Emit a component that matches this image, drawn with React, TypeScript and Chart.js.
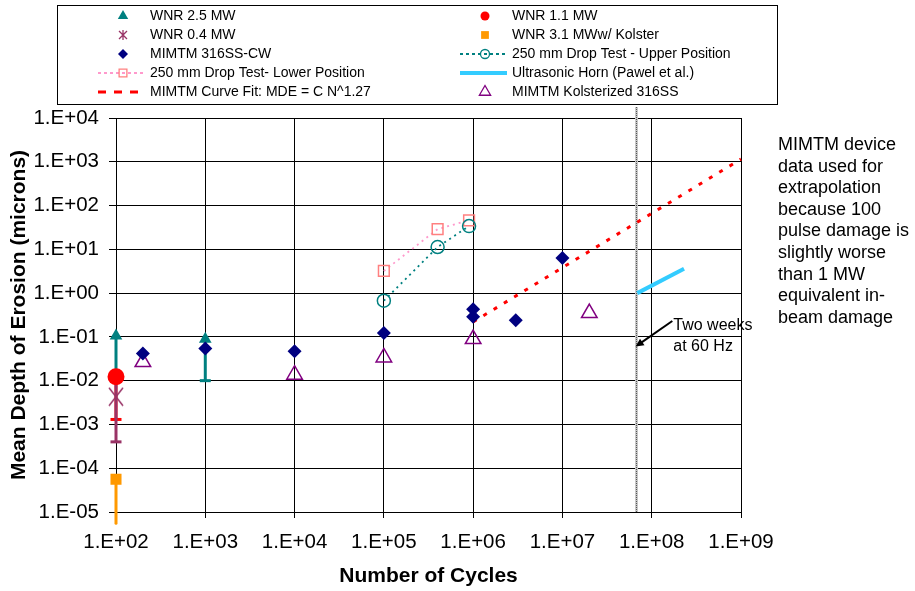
import React, { useEffect, useRef } from 'react';
import { Chart, registerables } from 'chart.js';

Chart.register(...registerables);

const FONT = '"Liberation Sans", Arial, Helvetica, sans-serif';

// ---- axis tick labels ----
const xTickLabels = ['1.E+02', '1.E+03', '1.E+04', '1.E+05', '1.E+06', '1.E+07', '1.E+08', '1.E+09'];
const yTickLabels = ['1.E-05', '1.E-04', '1.E-03', '1.E-02', '1.E-01', '1.E+00', '1.E+01', '1.E+02', '1.E+03', '1.E+04'];

// ---- series: number of cycles / mean depth of erosion (microns) ----
const wnr25Cycles = [100, 1000];
const wnr25Mde = [0.106, 0.089];
const wnr25Low = [0.012, 0.01];

const wnr11Cycles = [100];
const wnr11Mde = [0.0123];
const wnr11Low = [0.0013];

const wnr04Cycles = [100];
const wnr04Mde = [0.0043];
const wnr04Low = [0.0004];
const wnr04High = [0.012];

const wnr31Cycles = [100];
const wnr31Mde = [0.000056];
const wnr31Low = [0.0000055];

const mimtmCycles = [200, 1000, 10000, 100000, 1000000, 1000000, 3000000, 10000000];
const mimtmMde = [0.042, 0.054, 0.047, 0.123, 0.43, 0.29, 0.24, 6.3];

const kolCycles = [200, 10000, 100000, 1000000, 20000000];
const kolMde = [0.0266, 0.0137, 0.034, 0.089, 0.35];

const upperCycles = [100000, 400000, 900000];
const upperMde = [0.67, 11.3, 34];

const lowerCycles = [100000, 400000, 900000];
const lowerMde = [3.2, 29, 46];

const hornCycles = [69000000, 230000000];
const hornMde = [1.0, 3.6];

const fitCycles = [1000000, 1000000000];
const fitMde = [0.22, 1150];

const twoWeeksCycles = 66000000;
const arrowTail = [170000000, 0.23];
const arrowTip = [66000000, 0.06];
const twoWeeksLines = ['Two weeks', 'at 60 Hz'];
const noteLines = [
  'MIMTM device',
  'data used for',
  'extrapolation',
  'because 100',
  'pulse damage is',
  'slightly worse',
  'than 1 MW',
  'equivalent in-',
  'beam damage',
];

const legendOrder = [
  'WNR 2.5 MW',
  'WNR 1.1 MW',
  'WNR 0.4 MW',
  'WNR 3.1 MWw/ Kolster',
  'MIMTM 316SS-CW',
  '250 mm Drop Test - Upper Position',
  '250 mm Drop Test- Lower Position',
  'Ultrasonic Horn (Pawel et al.)',
  'MIMTM Curve Fit: MDE = C N^1.27',
  'MIMTM Kolsterized 316SS',
];

const toValue = (s: string) => Number(s.replace('.E', 'E'));
const pts = (xs: number[], ys: number[]) => xs.map((x, i) => ({ x, y: ys[i] }));

function makeStar(w: number, h: number, lw: number, color: string) {
  const c = document.createElement('canvas');
  c.width = w;
  c.height = h;
  const g = c.getContext('2d')!;
  g.strokeStyle = color;
  g.lineWidth = lw;
  g.beginPath();
  g.moveTo(1, 1);
  g.lineTo(w - 1, h - 1);
  g.moveTo(w - 1, 1);
  g.lineTo(1, h - 1);
  g.moveTo(w / 2, 0);
  g.lineTo(w / 2, h);
  g.stroke();
  return c;
}

function drawMarker(ctx: CanvasRenderingContext2D, style: any, x: number, y: number, r: number, fill: string, stroke: string, lw: number) {
  if (style instanceof HTMLCanvasElement) {
    ctx.drawImage(style, x - style.width / 2, y - style.height / 2);
    return;
  }
  ctx.beginPath();
  if (style === 'circle') ctx.arc(x, y, r, 0, Math.PI * 2);
  else if (style === 'triangle') {
    ctx.moveTo(x, y - r);
    ctx.lineTo(x + r * 0.866, y + r * 0.5);
    ctx.lineTo(x - r * 0.866, y + r * 0.5);
    ctx.closePath();
  } else if (style === 'rect') {
    const s = r * Math.SQRT1_2;
    ctx.rect(x - s, y - s, 2 * s, 2 * s);
  } else if (style === 'rectRot') {
    ctx.moveTo(x - r, y);
    ctx.lineTo(x, y - r);
    ctx.lineTo(x + r, y);
    ctx.lineTo(x, y + r);
    ctx.closePath();
  }
  if (fill && fill !== 'transparent') {
    ctx.fillStyle = fill;
    ctx.fill();
  }
  if (lw > 0) {
    ctx.strokeStyle = stroke;
    ctx.lineWidth = lw;
    ctx.stroke();
  }
}

const errorBars = [
  { cycles: wnr25Cycles, high: wnr25Mde, low: wnr25Low, color: '#008080', cap: true },
  { cycles: wnr11Cycles, high: wnr11Mde, low: wnr11Low, color: '#FF0000', cap: true },
  { cycles: wnr04Cycles, high: wnr04High, low: wnr04Low, color: '#993366', cap: true },
  { cycles: wnr31Cycles, high: wnr31Mde, low: wnr31Low, color: '#FF9900', cap: false },
];

export default function App() {
  const ref = useRef<HTMLCanvasElement>(null);

  useEffect(() => {
    const canvas = ref.current!;
    const star = makeStar(16, 20, 1.5, '#993366');
    const starSmall = makeStar(10, 10, 1.3, '#993366');

    const datasets: any[] = [
      { label: 'WNR 1.1 MW', data: pts(wnr11Cycles, wnr11Mde), pointStyle: 'circle', pointRadius: 8.5, backgroundColor: '#FF0000', borderColor: '#FF0000', borderWidth: 0, order: 0 },
      { label: 'MIMTM 316SS-CW', data: pts(mimtmCycles, mimtmMde), pointStyle: 'rectRot', pointRadius: 7, backgroundColor: '#000080', borderColor: '#000080', borderWidth: 0, order: 1 },
      { label: 'WNR 0.4 MW', data: pts(wnr04Cycles, wnr04Mde), pointStyle: star, pointRadius: 8, backgroundColor: '#993366', borderColor: '#993366', order: 2 },
      { label: 'WNR 2.5 MW', data: pts(wnr25Cycles, wnr25Mde), pointStyle: 'triangle', pointRadius: 7.3, backgroundColor: '#008080', borderColor: '#008080', borderWidth: 0, order: 3 },
      { label: 'WNR 3.1 MWw/ Kolster', data: pts(wnr31Cycles, wnr31Mde), pointStyle: 'rect', pointRadius: 7.8, backgroundColor: '#FF9900', borderColor: '#FF9900', borderWidth: 0, order: 4 },
      { label: 'MIMTM Kolsterized 316SS', data: pts(kolCycles, kolMde), pointStyle: 'triangle', pointRadius: 9, backgroundColor: 'transparent', borderColor: '#800080', borderWidth: 1.5, order: 5 },
      { label: '250 mm Drop Test - Upper Position', data: pts(upperCycles, upperMde), showLine: true, borderColor: '#008080', borderWidth: 1.8, borderDash: [2, 4], pointStyle: 'circle', pointRadius: 6.5, pointBackgroundColor: 'transparent', pointBorderColor: '#008080', pointBorderWidth: 1.5, backgroundColor: 'transparent', order: 6 },
      { label: '250 mm Drop Test- Lower Position', data: pts(lowerCycles, lowerMde), showLine: true, borderColor: '#FF99CC', borderWidth: 1.8, borderDash: [2, 4], pointStyle: 'rect', pointRadius: 7.6, pointBackgroundColor: 'transparent', pointBorderColor: '#FF8080', pointBorderWidth: 1.5, backgroundColor: 'transparent', order: 7 },
      { label: 'Ultrasonic Horn (Pawel et al.)', data: pts(hornCycles, hornMde), showLine: true, borderColor: '#33CCFF', borderWidth: 4, pointRadius: 0, order: 8 },
      { label: 'MIMTM Curve Fit: MDE = C N^1.27', data: pts(fitCycles, fitMde), showLine: true, borderColor: '#FF0000', borderWidth: 3, borderDash: [4, 8], pointRadius: 0, order: 9 },
    ];
    datasets.forEach((d) => (d.clip = false));

    const legendStyle: Record<string, any> = {
      'WNR 2.5 MW': { style: 'triangle', r: 6, fill: '#008080', stroke: '#008080', lw: 0 },
      'WNR 1.1 MW': { style: 'circle', r: 4.5, fill: '#FF0000', stroke: '#FF0000', lw: 0 },
      'WNR 0.4 MW': { style: starSmall, r: 5, fill: '', stroke: '#993366', lw: 0 },
      'WNR 3.1 MWw/ Kolster': { style: 'rect', r: 5.5, fill: '#FF9900', stroke: '#FF9900', lw: 0 },
      'MIMTM 316SS-CW': { style: 'rectRot', r: 5, fill: '#000080', stroke: '#000080', lw: 0 },
      '250 mm Drop Test - Upper Position': { style: 'circle', r: 4.5, fill: 'transparent', stroke: '#008080', lw: 1.3, line: '#008080', dash: [3, 3], lineW: 1.8 },
      '250 mm Drop Test- Lower Position': { style: 'rect', r: 5.5, fill: 'transparent', stroke: '#FF8080', lw: 1.3, line: '#FF99CC', dash: [3, 3], lineW: 1.8 },
      'Ultrasonic Horn (Pawel et al.)': { style: null, line: '#33CCFF', dash: [], lineW: 4 },
      'MIMTM Curve Fit: MDE = C N^1.27': { style: null, line: '#FF0000', dash: [8, 8], lineW: 3 },
      'MIMTM Kolsterized 316SS': { style: 'triangle', r: 6.5, fill: 'transparent', stroke: '#800080', lw: 1.3 },
    };

    const errorBarPlugin = {
      id: 'errorBars',
      beforeDatasetsDraw(chart: any) {
        const { ctx, scales, chartArea } = chart;
        const xs = scales.x;
        const ys = scales.y;
        ctx.save();
        // two-weeks vertical marker line
        const vx = Math.round(xs.getPixelForValue(twoWeeksCycles)) + 0.5;
        ctx.strokeStyle = '#c8c8c8';
        ctx.lineWidth = 3;
        ctx.beginPath();
        ctx.moveTo(vx, chartArea.top - 11);
        ctx.lineTo(vx, chartArea.bottom);
        ctx.stroke();
        ctx.strokeStyle = '#555';
        ctx.lineWidth = 1;
        ctx.setLineDash([1, 1]);
        ctx.beginPath();
        ctx.moveTo(vx, chartArea.top - 11);
        ctx.lineTo(vx, chartArea.bottom);
        ctx.stroke();
        ctx.setLineDash([]);

        for (const eb of errorBars) {
          ctx.strokeStyle = eb.color;
          ctx.lineWidth = 3;
          ctx.lineCap = eb.cap ? 'butt' : 'round';
          eb.cycles.forEach((n, i) => {
            const px = xs.getPixelForValue(n);
            const pHigh = ys.getPixelForValue(eb.high[i]);
            const pLow = ys.getPixelForValue(eb.low[i]);
            ctx.beginPath();
            ctx.moveTo(px, pHigh);
            ctx.lineTo(px, pLow);
            ctx.stroke();
            if (eb.cap) {
              ctx.beginPath();
              ctx.moveTo(px - 5.5, pLow);
              ctx.lineTo(px + 5.5, pLow);
              ctx.stroke();
            }
          });
        }
        ctx.restore();
      },
    };

    const overlayPlugin = {
      id: 'overlay',
      afterDraw(chart: any) {
        const { ctx, scales, chartArea } = chart;
        const xs = scales.x;
        const ys = scales.y;
        ctx.save();

        // arrow "Two weeks at 60 Hz"
        const tx = xs.getPixelForValue(arrowTail[0]);
        const ty = ys.getPixelForValue(arrowTail[1]);
        const hx = xs.getPixelForValue(arrowTip[0]);
        const hy = ys.getPixelForValue(arrowTip[1]);
        const ang = Math.atan2(hy - ty, hx - tx);
        ctx.strokeStyle = '#000';
        ctx.fillStyle = '#000';
        ctx.lineWidth = 2;
        ctx.beginPath();
        ctx.moveTo(tx, ty);
        ctx.lineTo(hx - Math.cos(ang) * 6, hy - Math.sin(ang) * 6);
        ctx.stroke();
        ctx.beginPath();
        ctx.moveTo(hx, hy);
        ctx.lineTo(hx - Math.cos(ang - 0.45) * 9, hy - Math.sin(ang - 0.45) * 9);
        ctx.lineTo(hx - Math.cos(ang + 0.45) * 9, hy - Math.sin(ang + 0.45) * 9);
        ctx.closePath();
        ctx.fill();

        ctx.font = `16px ${FONT}`;
        ctx.textBaseline = 'middle';
        ctx.textAlign = 'left';
        twoWeeksLines.forEach((t, i) => ctx.fillText(t, tx + 1, ty + 5 + i * 21));

        // side note
        ctx.font = `18px ${FONT}`;
        noteLines.forEach((t, i) => ctx.fillText(t, chartArea.right + 37, chartArea.top + 27 + i * 21.6));

        // legend box
        ctx.lineWidth = 1;
        ctx.strokeStyle = '#000';
        ctx.strokeRect(57.5, 5.5, 720, 99);

        ctx.font = `14px ${FONT}`;
        legendOrder.forEach((label, i) => {
          const col = i % 2;
          const row = Math.floor(i / 2);
          const mx = col ? 485 : 123;
          const textX = col ? 512 : 150;
          const y = 16 + row * 19;
          const st = legendStyle[label];
          if (st.line) {
            ctx.save();
            ctx.strokeStyle = st.line;
            ctx.lineWidth = st.lineW;
            ctx.setLineDash(st.dash);
            ctx.beginPath();
            ctx.moveTo(mx - 25, y);
            ctx.lineTo(mx + 22, y);
            ctx.stroke();
            ctx.restore();
          }
          if (st.style) {
            ctx.setLineDash([]);
            drawMarker(ctx, st.style, mx, y, st.r, st.fill, st.stroke, st.lw);
          }
          ctx.fillStyle = '#000';
          ctx.fillText(label, textX, y);
        });
        ctx.restore();
      },
    };

    const chart = new Chart(canvas, {
      type: 'scatter',
      data: { datasets },
      options: {
        responsive: false,
        animation: false,
        devicePixelRatio: 1,
        layout: { padding: { top: 118, right: 174, left: 0, bottom: 0 } },
        plugins: { legend: { display: false }, tooltip: { enabled: false } },
        scales: {
          x: {
            type: 'logarithmic',
            min: toValue(xTickLabels[0]),
            max: toValue(xTickLabels[xTickLabels.length - 1]),
            afterBuildTicks: (s: any) => {
              s.ticks = xTickLabels.map((l) => ({ value: toValue(l) }));
            },
            afterFit: (s: any) => {
              s.height = 79;
            },
            grid: { color: '#000', lineWidth: 1, drawTicks: true, tickLength: 6 },
            border: { display: true, color: '#000', width: 1 },
            ticks: {
              autoSkip: false,
              maxRotation: 0,
              padding: 12,
              color: '#000',
              font: { family: FONT, size: 20.5 },
              callback: (_v: any, i: number) => xTickLabels[i],
            },
            title: {
              display: true,
              text: 'Number of Cycles',
              color: '#000',
              font: { family: FONT, size: 21, weight: 'bold' },
              padding: { top: 0, bottom: 2 },
            },
          },
          y: {
            type: 'logarithmic',
            min: toValue(yTickLabels[0]),
            max: toValue(yTickLabels[yTickLabels.length - 1]),
            afterBuildTicks: (s: any) => {
              s.ticks = yTickLabels.map((l) => ({ value: toValue(l) }));
            },
            afterFit: (s: any) => {
              s.width = 116;
            },
            grid: { color: '#000', lineWidth: 1, drawTicks: true, tickLength: 7 },
            border: { display: true, color: '#000', width: 1 },
            ticks: {
              autoSkip: false,
              padding: 10,
              color: '#000',
              font: { family: FONT, size: 20.5 },
              callback: (_v: any, i: number) => yTickLabels[i],
            },
            title: {
              display: true,
              text: 'Mean Depth of Erosion (microns)',
              color: '#000',
              font: { family: FONT, size: 21, weight: 'bold' },
              padding: { top: 7, bottom: 0 },
            },
          },
        },
      } as any,
      plugins: [errorBarPlugin, overlayPlugin],
    });
    return () => chart.destroy();
  }, []);

  return (
    <div style={{ position: 'fixed', left: 0, top: 0, width: 915, height: 591, background: '#fff' }}>
      <canvas ref={ref} width={915} height={591} style={{ display: 'block' }} />
    </div>
  );
}
